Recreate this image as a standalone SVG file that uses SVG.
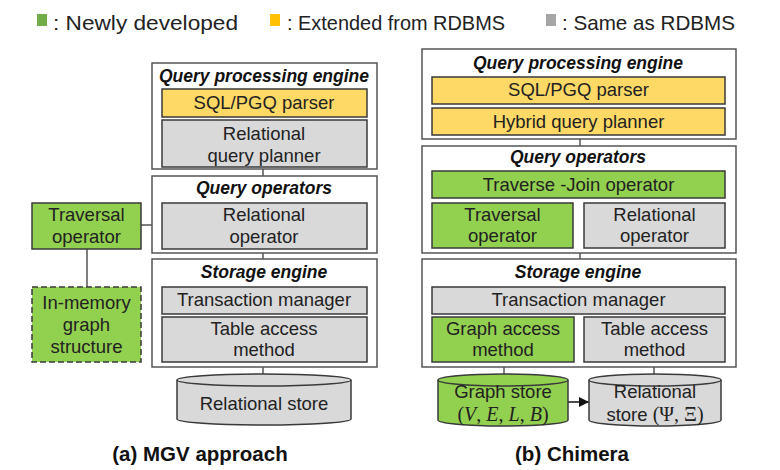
<svg xmlns="http://www.w3.org/2000/svg" width="780" height="470" viewBox="0 0 780 470">
<defs>
<style>
text{font-family:"Liberation Sans",Arial,sans-serif;fill:#222;text-anchor:middle}
.t{font-size:18.5px}
.h{font-size:17.5px;font-weight:bold;font-style:italic;fill:#111}
.cap{font-size:20.5px;font-weight:bold;fill:#111}
.leg{font-size:21px;text-anchor:start}
.panel{fill:#fff;stroke:#555;stroke-width:1.5}
.g{fill:#92D050;stroke:#3a3a3a;stroke-width:1.5}
.o{fill:#FFD966;stroke:#3a3a3a;stroke-width:1.5}
.s{fill:#D9D9D9;stroke:#3a3a3a;stroke-width:1.5}
.ln{stroke:#555;stroke-width:1.5;fill:none}
.m{font-family:"Liberation Serif","DejaVu Serif",serif;font-size:20px}
</style>
<marker id="ah" viewBox="0 0 10 10" refX="10" refY="5" markerWidth="10" markerHeight="10" orient="auto" markerUnits="userSpaceOnUse">
<path d="M0,0L10,5L0,10z" fill="#111"/>
</marker>
</defs>
<rect width="780" height="470" fill="#fff"/>

<g id="legend">
<rect x="37" y="14" width="10" height="12" fill="#70AD47"/>
<text class="leg" x="53" y="30" textLength="185" lengthAdjust="spacingAndGlyphs">: Newly developed</text>
<rect x="270" y="14" width="10" height="12" fill="#FFC000"/>
<text class="leg" x="287" y="30" textLength="218" lengthAdjust="spacingAndGlyphs">: Extended from RDBMS</text>
<rect x="546" y="14" width="10" height="12" fill="#A6A6A6"/>
<text class="leg" x="562" y="30" textLength="173" lengthAdjust="spacingAndGlyphs">: Same as RDBMS</text>
</g>

<g id="connectors">
<line class="ln" x1="263" y1="169" x2="263" y2="176"/>
<line class="ln" x1="263" y1="253" x2="263" y2="259"/>
<line class="ln" x1="263" y1="367" x2="263" y2="375"/>
<line class="ln" x1="141" y1="225" x2="162" y2="225"/>
<line class="ln" x1="87" y1="249" x2="87" y2="287"/>
<line class="ln" x1="580" y1="139" x2="580" y2="146"/>
<line class="ln" x1="580" y1="253" x2="580" y2="259"/>
<line class="ln" x1="504" y1="367" x2="504" y2="375"/>
<line class="ln" x1="654" y1="367" x2="654" y2="375"/>
<line x1="568" y1="402" x2="589" y2="402" stroke="#111" stroke-width="1.5" marker-end="url(#ah)"/>
</g>

<!-- Left: MGV approach -->
<g id="mgv-qpe">
<rect class="panel" x="152" y="63" width="225" height="106"/>
<text class="h" x="264" y="82">Query processing engine</text>
</g>
<g id="mgv-parser">
<rect class="o" x="162" y="89" width="205" height="28"/>
<text class="t" x="264" y="109">SQL/PGQ parser</text>
</g>
<g id="mgv-planner">
<rect class="s" x="162" y="120" width="205" height="47"/>
<text class="t" x="264" y="140">Relational</text>
<text class="t" x="264" y="162">query planner</text>
</g>
<g id="mgv-qo">
<rect class="panel" x="152" y="176" width="225" height="77"/>
<text class="h" x="264" y="194">Query operators</text>
</g>
<g id="mgv-relop">
<rect class="s" x="162" y="203" width="205" height="46"/>
<text class="t" x="264" y="221">Relational</text>
<text class="t" x="264" y="243">operator</text>
</g>
<g id="mgv-travop">
<rect class="g" x="32" y="203" width="109" height="46"/>
<text class="t" x="86.5" y="221">Traversal</text>
<text class="t" x="86.5" y="243">operator</text>
</g>
<g id="mgv-se">
<rect class="panel" x="152" y="259" width="225" height="108"/>
<text class="h" x="264" y="278">Storage engine</text>
</g>
<g id="mgv-txn">
<rect class="s" x="162" y="287" width="205" height="27"/>
<text class="t" x="264" y="306">Transaction manager</text>
</g>
<g id="mgv-tam">
<rect class="s" x="162" y="317" width="205" height="45"/>
<text class="t" x="264" y="335">Table access</text>
<text class="t" x="264" y="356">method</text>
</g>
<g id="mgv-inmem">
<rect class="g" x="32" y="287" width="109" height="75" stroke-dasharray="6,3"/>
<text class="t" x="86.5" y="309">In-memory</text>
<text class="t" x="86.5" y="331">graph</text>
<text class="t" x="86.5" y="353">structure</text>
</g>
<g id="mgv-relstore">
<path class="s" d="M177,380 L177,419 A87,6 0 0 0 351,419 L351,380"/>
<ellipse class="s" cx="264" cy="380" rx="87" ry="6"/>
<text class="t" x="264" y="410">Relational store</text>
</g>
<text class="cap" x="200" y="461">(a) MGV approach</text>

<!-- Right: Chimera -->
<g id="ch-qpe">
<rect class="panel" x="422" y="49" width="314" height="90"/>
<text class="h" x="578" y="69">Query processing engine</text>
</g>
<g id="ch-parser">
<rect class="o" x="432" y="77" width="293" height="27"/>
<text class="t" x="578.5" y="96">SQL/PGQ parser</text>
</g>
<g id="ch-planner">
<rect class="o" x="432" y="108" width="293" height="27"/>
<text class="t" x="578.5" y="128">Hybrid query planner</text>
</g>
<g id="ch-qo">
<rect class="panel" x="422" y="146" width="314" height="107"/>
<text class="h" x="578" y="163">Query operators</text>
</g>
<g id="ch-tj">
<rect class="g" x="432" y="171" width="293" height="27"/>
<text class="t" x="578.5" y="191">Traverse -Join operator</text>
</g>
<g id="ch-travop">
<rect class="g" x="432" y="203" width="141" height="45"/>
<text class="t" x="502.5" y="221">Traversal</text>
<text class="t" x="502.5" y="242">operator</text>
</g>
<g id="ch-relop">
<rect class="s" x="584" y="203" width="141" height="45"/>
<text class="t" x="654.5" y="221">Relational</text>
<text class="t" x="654.5" y="242">operator</text>
</g>
<g id="ch-se">
<rect class="panel" x="422" y="259" width="314" height="108"/>
<text class="h" x="578" y="278">Storage engine</text>
</g>
<g id="ch-txn">
<rect class="s" x="432" y="287" width="293" height="27"/>
<text class="t" x="578.5" y="306">Transaction manager</text>
</g>
<g id="ch-gam">
<rect class="g" x="432" y="317" width="142" height="45"/>
<text class="t" x="503" y="335">Graph access</text>
<text class="t" x="503" y="356">method</text>
</g>
<g id="ch-tam">
<rect class="s" x="584" y="317" width="141" height="45"/>
<text class="t" x="654.5" y="335">Table access</text>
<text class="t" x="654.5" y="356">method</text>
</g>
<g id="ch-graphstore">
<path class="g" d="M438,380 L438,420 A65,6 0 0 0 568,420 L568,380"/>
<ellipse class="g" cx="503" cy="380" rx="65" ry="6"/>
<text class="t" x="503" y="398">Graph store</text>
<text class="m" x="503" y="421">(<tspan font-style="italic">V</tspan>, <tspan font-style="italic">E</tspan>, <tspan font-style="italic">L</tspan>, <tspan font-style="italic">B</tspan>)</text>
</g>
<g id="ch-relstore">
<path class="s" d="M589,380 L589,420 A66,6 0 0 0 721,420 L721,380"/>
<ellipse class="s" cx="655" cy="380" rx="66" ry="6"/>
<text class="t" x="655" y="398">Relational</text>
<text class="t" x="655" y="421">store <tspan class="m">(Ψ, Ξ)</tspan></text>
</g>
<text class="cap" x="572" y="461">(b) Chimera</text>
</svg>
